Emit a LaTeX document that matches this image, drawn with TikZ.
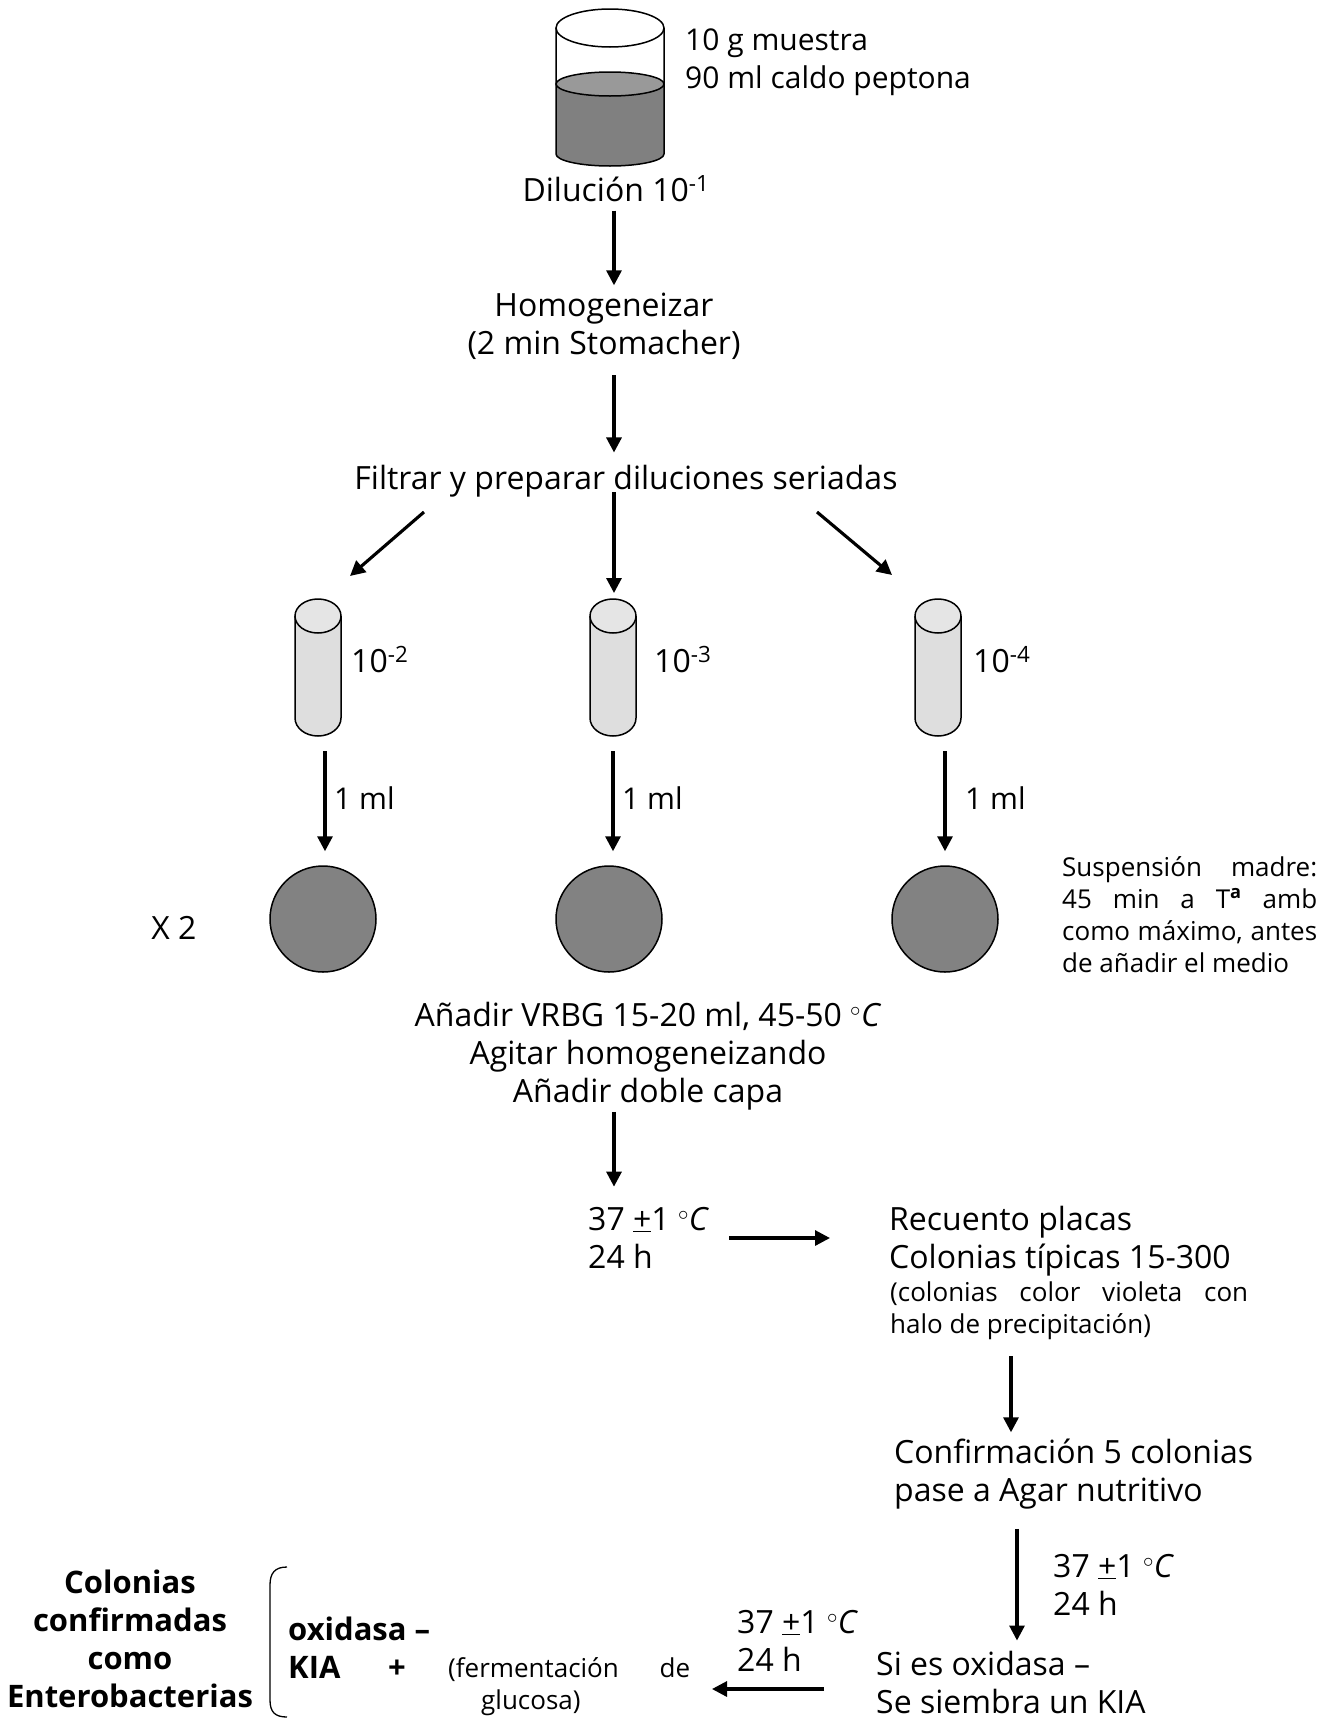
\documentclass[tikz,border=0pt]{standalone}
\usepackage{fontspec}
\setmainfont{Open Sans}
\usetikzlibrary{arrows.meta,positioning,calc}
\definecolor{liquido}{gray}{0.50}
\definecolor{liquidotop}{gray}{0.60}
\definecolor{tubocolor}{gray}{0.87}
\definecolor{tubotop}{gray}{0.90}
\definecolor{placacolor}{gray}{0.51}
\newcommand{\grados}{$^{\circ}$\textit{C}}
\newcommand{\masmenos}{\underline{+}}
\tikzset{
  texto/.style={inner sep=0pt, font=\fontsize{32}{38}\selectfont},
  textomed/.style={inner sep=0pt, font=\fontsize{30}{38}\selectfont},
  negrita/.style={inner sep=0pt, font=\fontsize{31}{38}\selectfont\bfseries},
  textopeq/.style={inner sep=0pt, font=\fontsize{26}{32}\selectfont},
  flecha/.style={line width=1.1mm, -{Triangle[length=15pt,width=15pt]}},
  placa/.style={circle, draw, line width=1.5pt, fill=placacolor, minimum size=106pt, inner sep=0pt},
}
\begin{document}
\begin{tikzpicture}[x=1pt, y=-1pt]
    \useasboundingbox (0,0) rectangle (1335,1719);
    % Vaso con la muestra
    \fill[liquido] (556,84) -- (556,154) arc[start angle=180, end angle=0, x radius=54, y radius=12] -- (664,84) -- cycle;
    \draw[line width=1.5pt, fill=liquidotop] (610,84) ellipse (54 and 12);
    \draw[line width=1.5pt, fill=white] (610,28) ellipse (54 and 19);
    \draw[line width=1.5pt] (556,28) -- (556,154) arc[start angle=180, end angle=0, x radius=54, y radius=12] -- (664,28);
    \node[textomed, anchor=base west, align=left] (muestra) at (685,88) {10 g muestra\\90 ml caldo peptona};
    \node[texto, anchor=base] (dilucion) at (616,201) {Dilución 10\textsuperscript{-1}};
    \node[texto, anchor=base, align=center] (homog) at (604,354) {Homogeneizar\\(2 min Stomacher)};
    \node[texto, anchor=base] (filtrar) at (626,489) {Filtrar y preparar diluciones seriadas};
    % Columna central
    \coordinate (centro) at (614,0);
    \draw[flecha, shorten <=9pt, shorten >=7pt] (dilucion.south -| centro) -- (homog.north -| centro);
    \draw[flecha, shorten <=16pt, shorten >=12pt] (homog.south -| centro) -- (filtrar.north -| centro);
    % Tubos con sus diluciones y placas
    \foreach \n/\x/\lx/\ax/\mx/\px/\e in {1/318/351/325/334/323/2, 2/613/654/613/622/609/3, 3/938/973/945/965/945/4} {
      \fill[tubocolor] (\x-23,616) -- (\x-23,718) arc[start angle=180, end angle=0, x radius=23, y radius=18] -- (\x+23,616) -- cycle;
      \draw[line width=1.5pt] (\x-23,616) -- (\x-23,718) arc[start angle=180, end angle=0, x radius=23, y radius=18] -- (\x+23,616);
      \draw[line width=1.5pt, fill=tubotop] (\x,616) ellipse (23 and 17);
      \coordinate (tubo\n) at (\ax,751);
      \node[texto, anchor=base west] (dil\n) at (\lx,672) {10\textsuperscript{-\e}};
      \node[placa] (placa\n) at (\px,919) {};
      \node[textomed, anchor=base west] (ml\n) at (\mx,809) {1 ml};
      \draw[flecha, shorten >=14pt] (tubo\n) -- (tubo\n |- placa\n.north);
    }
    \coordinate (izq1) at (424,512);
    \coordinate (izq2) at (350,576);
    \coordinate (der1) at (817,512);
    \coordinate (der2) at (892,575);
    \coordinate (med1) at (614,492);
    \coordinate (med2) at (614,593);
    \draw[flecha] (izq1) -- (izq2);
    \draw[flecha] (med1) -- (med2);
    \draw[flecha] (der1) -- (der2);
    \node[texto, anchor=base] (x2) at (174,939) {X 2};
    \node[textopeq, anchor=base west, text width=255pt, align=justify] (suspension) at (1062,876) {Suspensión madre:\linebreak 45 min a T\textsuperscript{\bfseries a} amb\linebreak como máximo, antes\linebreak de añadir el medio};
    % Incubacion y recuento
    \node[texto, anchor=base, align=center] (anadir) at (648,1102) {Añadir VRBG 15-20 ml, 45-50 \grados\\Agitar homogeneizando\\Añadir doble capa};
    \node[texto, anchor=base west, align=left] (incuba) at (588,1268) {37 \masmenos1 \grados\\24 h};
    \draw[flecha, shorten <=2pt, shorten >=20pt] (anadir.south -| centro) -- (incuba.north -| centro);
    \node[texto, anchor=base west, align=left] (recuento) at (889,1268) {Recuento placas\\Colonias típicas 15-300};
    \node[textopeq, anchor=base west, text width=358pt, align=justify] (halo) at (890,1301) {(colonias color violeta con\linebreak halo de precipitación)};
    \coordinate (inc1) at (729,1238);
    \coordinate (inc2) at (830,1238);
    \draw[flecha] (inc1) -- (inc2);
    \node[texto, anchor=base west, text width=359pt, align=justify] (confirma) at (894,1463) {Confirmación 5 colonias\linebreak pase a Agar nutritivo};
    \coordinate (cf) at (1011,0);
    \draw[flecha, shorten <=17pt, shorten >=6pt] (halo.south -| cf) -- (confirma.north -| cf);
    % Pruebas finales
    \node[texto, anchor=base west, align=left] (incubb) at (1053,1615) {37 \masmenos1 \grados\\24 h};
    \node[texto, anchor=base west, align=left] (siembra) at (876,1713) {Si es oxidasa --\\Se siembra un KIA};
    \coordinate (sb) at (1017,0);
    \draw[flecha, shorten <=20pt, shorten >=10pt] (confirma.south -| sb) -- (siembra.north -| sb);
    \node[texto, anchor=base west, align=left] (incubc) at (737,1671) {37 \masmenos1 \grados\\24 h};
    \coordinate (kia1) at (824,1689);
    \coordinate (kia2) at (712,1689);
    \draw[flecha] (kia1) -- (kia2);
    \node[negrita, anchor=base, align=center] (colonias) at (130,1707) {Colonias\\confirmadas\\como\\Enterobacterias};
    \draw[line width=1.3pt] (287,1567) .. controls (275,1567) and (270,1573) .. (270,1585) -- (270,1700) .. controls (270,1712) and (275,1717) .. (287,1717);
    \node[negrita, anchor=base west, align=left] (oxidasa) at (288,1678) {oxidasa --\\KIA};
    \node[negrita, anchor=base] (mas) at (397,1678) {+};
    \node[textopeq, anchor=base west, text width=242pt, align=justify] (ferment) at (448,1677) {(fermentación de\linebreak\hspace*{33pt}glucosa)};
\end{tikzpicture}
\end{document}
